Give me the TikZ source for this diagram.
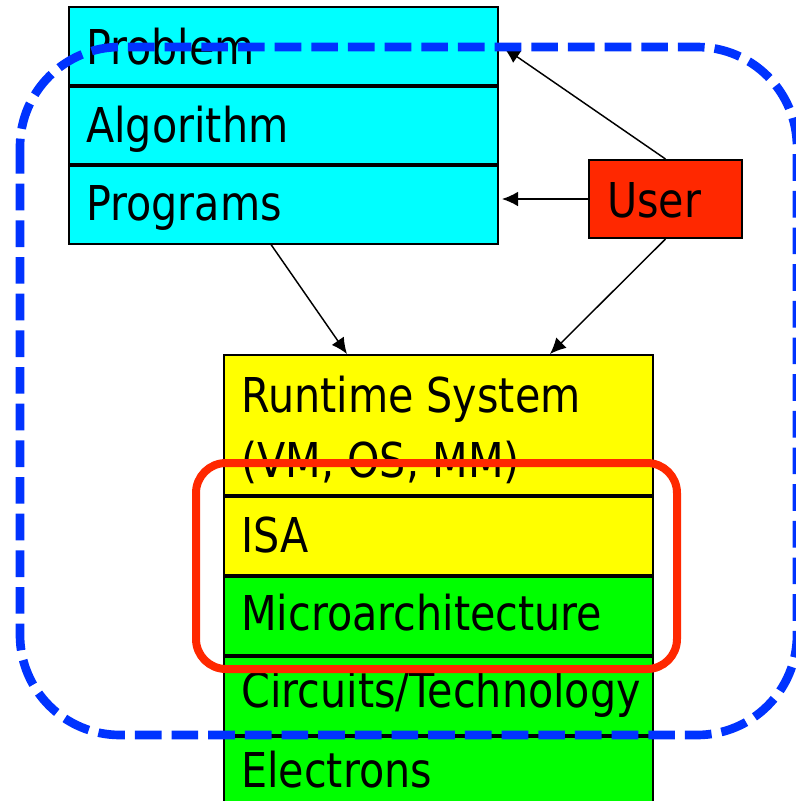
\documentclass[tikz,border=0pt]{standalone}
\usepackage{fontspec}
\setmainfont[FakeStretch=0.86]{DejaVu Sans}
\usetikzlibrary{arrows.meta,calc}
\definecolor{cyanfill}{RGB}{0,255,255}
\definecolor{yellowfill}{RGB}{255,255,0}
\definecolor{greenfill}{RGB}{0,255,0}
\definecolor{userred}{RGB}{255,40,0}
\definecolor{dashblue}{RGB}{0,51,255}
\begin{document}
\begin{tikzpicture}[x=0.75pt,y=-0.75pt,
  layerrow/.style={draw=black, line width=1.5pt, minimum width=321.75pt, inner sep=0pt, anchor=north west},
  cyanrow/.style={layerrow, fill=cyanfill, minimum height=58.125pt},
  yellowrow/.style={layerrow, fill=yellowfill, minimum height=58.5pt},
  greenrow/.style={layerrow, fill=greenfill, minimum height=58.5pt},
  lbl/.style={anchor=base west, inner sep=0pt, font=\fontsize{36}{48.75}\selectfont, align=left},
  conn/.style={draw=black, line width=1.1pt, -{Latex[length=12pt,width=11pt]}},
  focusbox/.style={draw=userred, line width=6pt, rounded corners=22.5pt},
  scopebox/.style={draw=dashblue, line width=6.5pt, rounded corners=75pt, dash pattern=on 20pt off 7.5pt}
]
\clip (0,0) rectangle (796,801);
\useasboundingbox (0,0) rectangle (796,801);
\fill[white] (0,0) rectangle (796,801);

% upper stack
\node[cyanrow] (problem) at (68,6) {};
\node[cyanrow] (algorithm) at (problem.south west) {};
\node[cyanrow] (programs) at (algorithm.south west) {};

% lower stack
\node[yellowrow, minimum height=105pt] (runtime) at (223,354) {};
\node[yellowrow] (isa) at (runtime.south west) {};
\node[greenrow] (micro) at (isa.south west) {};
\node[greenrow] (circuits) at (micro.south west) {};
\node[greenrow] (electrons) at (circuits.south west) {};

% user
\node[draw=black, line width=1.5pt, fill=userred, minimum width=114.75pt, minimum height=58.5pt, inner sep=0pt, anchor=north west] (user) at (588,159) {};

% labels
\node[lbl] (tproblem) at (86,64) {Problem};
\node[lbl] (talgorithm) at (86,142) {Algorithm};
\node[lbl] (tprograms) at (86,220) {Programs};
\node[lbl] (truntime) at (241,477) {Runtime System\\(VM, OS, MM)};
\node[lbl] (tisa) at (241,552) {ISA};
\node[lbl] (tmicro) at (241,630) {Microarchitecture};
\node[lbl] (tcircuits) at (241,707) {Circuits/Technology};
\node[lbl] (telectrons) at (241,787) {Electrons};
\node[lbl] (tuser) at (607,217) {User};

% connectors
\draw[conn] (user.north) -- ($(problem.east)+(5,2)$);
\draw[conn] (user.west) -- ($(user.west -| programs.east)+(3,0)$);
\draw[conn] ($(programs.south west)+(203,0)$) -- ($(runtime.north west)+(124,0)$);
\draw[conn] (user.south) -- ($(runtime.north west)+(327,0)$);

% highlight boxes
\draw[focusbox] (196,463) rectangle (677,669);
\draw[scopebox] (20,47) rectangle (797,735);
\end{tikzpicture}
\end{document}
